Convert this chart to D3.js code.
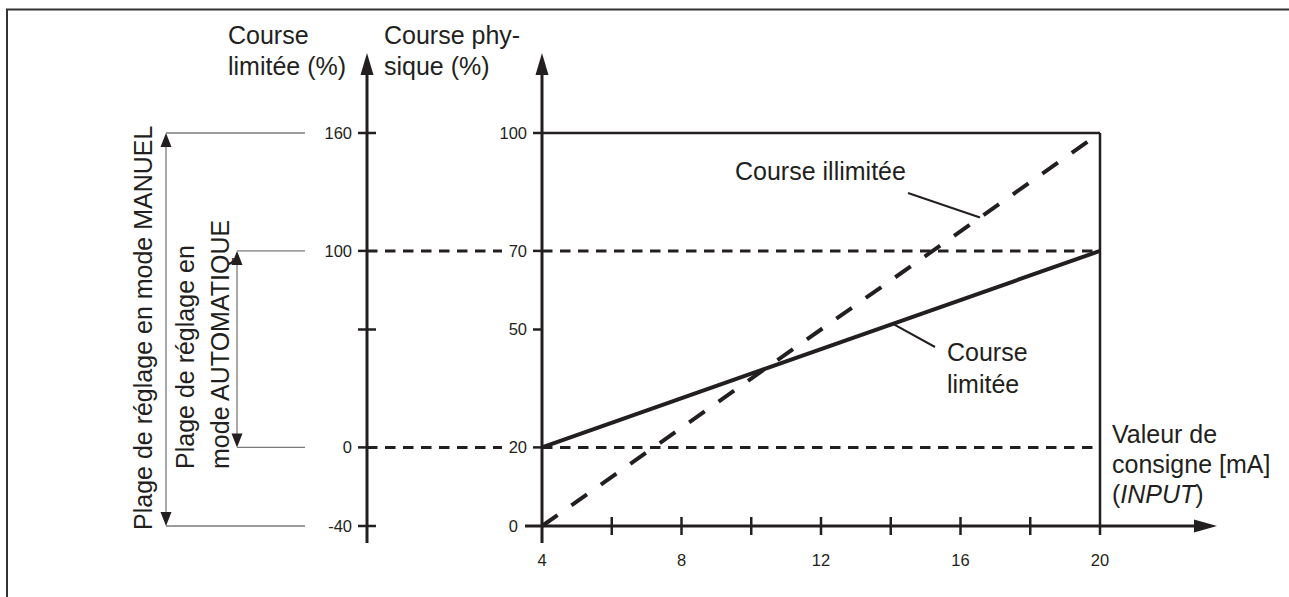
<!DOCTYPE html>
<html>
<head>
<meta charset="utf-8">
<script src="https://cdn.jsdelivr.net/npm/d3@7"></script>
<style>
  html, body { margin: 0; padding: 0; background: #fff; overflow: hidden; }
  svg { display: block; }
  text { font-family: "Liberation Sans", Arial, Helvetica, sans-serif; fill: #231f20; }
</style>
</head>
<body>
<svg id="chart" width="1289" height="597"></svg>
<script>
// ---------------- data ----------------
const inputValues = [4, 20];            // setpoint [mA]
const unlimitedStroke = [0, 100];        // physical stroke (%) for "Course illimitée"
const limitedStroke = [20, 70];          // physical stroke (%) for "Course limitée"
const xTicks = [4, 6, 8, 10, 12, 14, 16, 18, 20];
const xTickLabels = [4, 8, 12, 16, 20];
const physTicks = [0, 20, 50, 70, 100];
const limTicks = [-40, 0, 60, 100, 160];
const limTickLabels = [-40, 0, 100, 160];
const dashedLevels = [20, 70];           // physical stroke levels drawn dashed
const manualRange = [-40, 160];          // limited stroke range, manual mode
const autoRange = [0, 100];              // limited stroke range, automatic mode

// ---------------- layout ----------------
const svg = d3.select("#chart");
const ink = "#231f20";
const grey = "#7a7a7a";

const x = d3.scaleLinear().domain([4, 20]).range([542, 1100]);
const yP = d3.scaleLinear().domain([0, 100]).range([526, 133]);
const yL = d3.scaleLinear().domain([-40, 160]).range([526, 133]);
const axisLX = 367;
const axisRX = x(4);

// frame (only top and left edges visible)
svg.append("path").attr("d", "M7,600 L7,9.5 L1300,9.5")
  .attr("fill", "none").attr("stroke", "#333").attr("stroke-width", 2);

// ---- dashed horizontal levels (left axis -> label gap -> right axis -> x=20)
svg.selectAll("line.lvlA").data(dashedLevels).join("line").attr("class", "lvlA")
  .attr("x1", axisLX).attr("x2", axisRX - 40)
  .attr("y1", d => yP(d)).attr("y2", d => yP(d))
  .attr("stroke", ink).attr("stroke-width", 3).attr("stroke-dasharray", "10.5,7.5");
svg.selectAll("line.lvlB").data(dashedLevels).join("line").attr("class", "lvlB")
  .attr("x1", axisRX).attr("x2", x(20))
  .attr("y1", d => yP(d)).attr("y2", d => yP(d))
  .attr("stroke", ink).attr("stroke-width", 3).attr("stroke-dasharray", "10.5,7.5");

// top solid line at 100 and right vertical at 20
svg.append("line").attr("x1", axisRX).attr("x2", x(20)).attr("y1", yP(100)).attr("y2", yP(100))
  .attr("stroke", ink).attr("stroke-width", 2.5);
svg.append("line").attr("x1", x(20)).attr("x2", x(20)).attr("y1", yP(100)).attr("y2", yP(0) + 9)
  .attr("stroke", ink).attr("stroke-width", 2.5);

// ---- left axis (Course limitée)
svg.append("line").attr("x1", axisLX).attr("x2", axisLX).attr("y1", 543).attr("y2", 70)
  .attr("stroke", ink).attr("stroke-width", 3);
svg.append("path").attr("d", `M${axisLX},53 L${axisLX - 6.5},75 L${axisLX + 6.5},75 Z`).attr("fill", ink);
svg.selectAll("line.ltick").data(limTicks).join("line").attr("class", "ltick")
  .attr("x1", axisLX - 9).attr("x2", d => (d === 0 || d === 100) ? axisLX : axisLX + 9)
  .attr("y1", d => yL(d)).attr("y2", d => yL(d))
  .attr("stroke", ink).attr("stroke-width", 2.5);
svg.selectAll("text.llab").data(limTickLabels).join("text").attr("class", "llab")
  .attr("x", axisLX - 15).attr("y", d => yL(d)).attr("dy", "0.36em")
  .attr("text-anchor", "end").attr("font-size", 16.5).text(d => d);

// ---- right axis (Course physique)
svg.append("line").attr("x1", axisRX).attr("x2", axisRX).attr("y1", 543).attr("y2", 70)
  .attr("stroke", ink).attr("stroke-width", 3);
svg.append("path").attr("d", `M${axisRX},53 L${axisRX - 6.5},75 L${axisRX + 6.5},75 Z`).attr("fill", ink);
svg.selectAll("line.ptick").data(physTicks.filter(d => d !== 0)).join("line").attr("class", "ptick")
  .attr("x1", axisRX - 9).attr("x2", axisRX)
  .attr("y1", d => yP(d)).attr("y2", d => yP(d))
  .attr("stroke", ink).attr("stroke-width", 2.5);
svg.selectAll("text.plab").data(physTicks).join("text").attr("class", "plab")
  .attr("x", d => d === 0 ? axisRX - 24 : axisRX - 15).attr("y", d => yP(d)).attr("dy", "0.36em")
  .attr("text-anchor", "end").attr("font-size", 16.5).text(d => d);

// ---- x axis
svg.append("line").attr("x1", axisRX - 17).attr("x2", 1200).attr("y1", yP(0)).attr("y2", yP(0))
  .attr("stroke", ink).attr("stroke-width", 3);
svg.append("path").attr("d", `M1217,${yP(0)} L1194,${yP(0) - 6.5} L1194,${yP(0) + 6.5} Z`).attr("fill", ink);
svg.selectAll("line.xtick").data(xTicks.filter(d => d !== 4 && d !== 20)).join("line").attr("class", "xtick")
  .attr("x1", d => x(d)).attr("x2", d => x(d))
  .attr("y1", yP(0) - 9).attr("y2", yP(0) + 9)
  .attr("stroke", ink).attr("stroke-width", 2.5);
svg.selectAll("text.xlab").data(xTickLabels).join("text").attr("class", "xlab")
  .attr("x", d => x(d)).attr("y", 566).attr("text-anchor", "middle")
  .attr("font-size", 16.5).text(d => d);

// ---- data lines
const line = d3.line().x(d => x(d[0])).y(d => yP(d[1]));
svg.append("path").datum(inputValues.map((v, i) => [v, unlimitedStroke[i]]))
  .attr("d", line).attr("fill", "none").attr("stroke", ink).attr("stroke-width", 4)
  .attr("stroke-dasharray", "19,17");
svg.append("path").datum(inputValues.map((v, i) => [v, limitedStroke[i]]))
  .attr("d", line).attr("fill", "none").attr("stroke", ink).attr("stroke-width", 4);

// ---- leader lines
function interp(arr, xv) { return arr[0] + (arr[1] - arr[0]) * (xv - inputValues[0]) / (inputValues[1] - inputValues[0]); }
const xu = x.invert(980), xl = x.invert(893);
svg.append("line").attr("x1", 908).attr("y1", 193).attr("x2", x(xu)).attr("y2", yP(interp(unlimitedStroke, xu)))
  .attr("stroke", ink).attr("stroke-width", 2);
svg.append("line").attr("x1", x(xl)).attr("y1", yP(interp(limitedStroke, xl))).attr("x2", 935).attr("y2", 347)
  .attr("stroke", ink).attr("stroke-width", 2);

// ---- annotation texts
const fs = 25;
svg.append("text").attr("x", 735).attr("y", 180).attr("font-size", fs).text("Course illimitée");
svg.append("text").attr("x", 947).attr("y", 361).attr("font-size", fs).text("Course");
svg.append("text").attr("x", 947).attr("y", 393).attr("font-size", fs).text("limitée");
svg.append("text").attr("x", 1112).attr("y", 443).attr("font-size", fs).text("Valeur de");
svg.append("text").attr("x", 1112).attr("y", 473).attr("font-size", fs).text("consigne [mA]");
const t3 = svg.append("text").attr("x", 1112).attr("y", 503).attr("font-size", fs);
t3.append("tspan").text("(");
t3.append("tspan").attr("font-style", "italic").text("INPUT");
t3.append("tspan").text(")");

// axis titles
svg.append("text").attr("x", 228).attr("y", 44).attr("font-size", fs).text("Course");
svg.append("text").attr("x", 228).attr("y", 75).attr("font-size", fs).text("limitée (%)");
svg.append("text").attr("x", 384).attr("y", 44).attr("font-size", fs).text("Course phy-");
svg.append("text").attr("x", 384).attr("y", 75).attr("font-size", fs).text("sique (%)");

// ---- range brackets (grey)
function bracket(xa, range) {
  const yTop = yL(range[1]), yBot = yL(range[0]);
  svg.append("line").attr("x1", xa).attr("x2", 305).attr("y1", yTop).attr("y2", yTop).attr("stroke", grey).attr("stroke-width", 1.3);
  svg.append("line").attr("x1", xa).attr("x2", 305).attr("y1", yBot).attr("y2", yBot).attr("stroke", grey).attr("stroke-width", 1.3);
  svg.append("line").attr("x1", xa).attr("x2", xa).attr("y1", yTop + 10).attr("y2", yBot - 10).attr("stroke", grey).attr("stroke-width", 1.3);
  svg.append("path").attr("d", `M${xa},${yTop} L${xa - 5.5},${yTop + 14} L${xa + 5.5},${yTop + 14} Z`).attr("fill", ink);
  svg.append("path").attr("d", `M${xa},${yBot} L${xa - 5.5},${yBot - 14} L${xa + 5.5},${yBot - 14} Z`).attr("fill", ink);
}
bracket(166, manualRange);
bracket(237, autoRange);

svg.append("text").attr("transform", "translate(152,530) rotate(-90)").attr("font-size", fs)
  .text("Plage de réglage en mode MANUEL");
svg.append("text").attr("transform", "translate(194,469) rotate(-90)").attr("font-size", fs)
  .text("Plage de réglage en");
svg.append("text").attr("transform", "translate(229,469) rotate(-90)").attr("font-size", fs)
  .text("mode AUTOMATIQUE");
</script>
</body>
</html>
